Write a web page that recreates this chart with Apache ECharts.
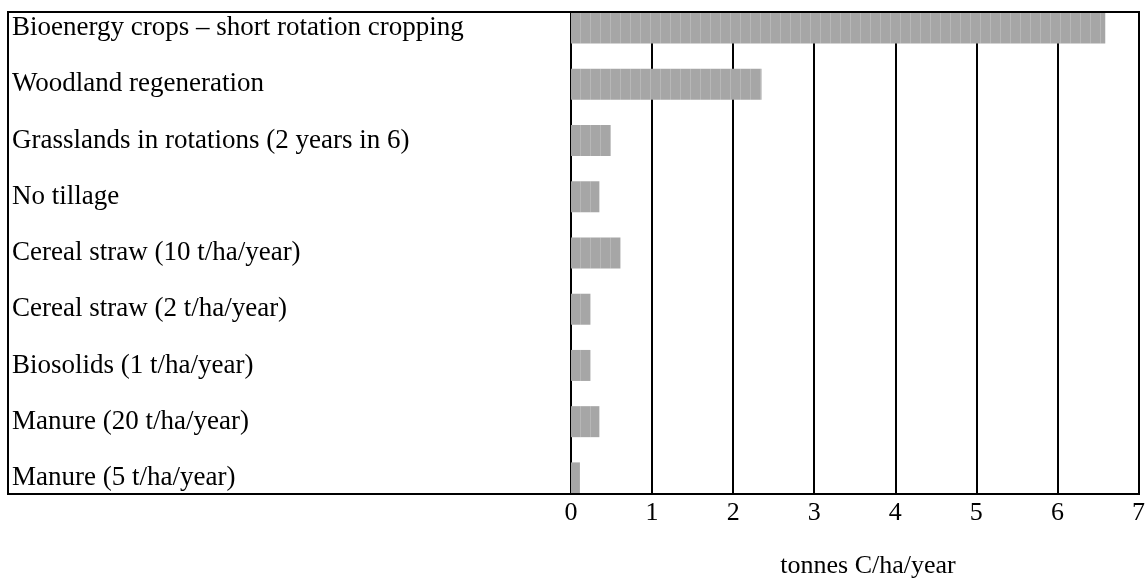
<!DOCTYPE html>
<html>
<head>
<meta charset="utf-8">
<script src="https://cdn.jsdelivr.net/npm/echarts@6/dist/echarts.min.js"></script>
<style>
  html, body { margin: 0; padding: 0; background: #fff; }
  #chart { width: 1148px; height: 584px; }
</style>
</head>
<body>
<div id="chart"></div>
<script>
const categories = [
    'Bioenergy crops \u2013 short rotation cropping',
    'Woodland regeneration',
    'Grasslands in rotations (2 years in 6)',
    'No tillage',
    'Cereal straw (10 t/ha/year)',
    'Cereal straw (2 t/ha/year)',
    'Biosolids (1 t/ha/year)',
    'Manure (20 t/ha/year)',
    'Manure (5 t/ha/year)'
];
const values = [6.59, 2.35, 0.49, 0.35, 0.61, 0.24, 0.24, 0.35, 0.11];
const axisTitle = 'tonnes C/ha/year';

const font = 'Liberation Serif, Times New Roman, serif';
const chart = echarts.init(document.getElementById('chart'), null, { renderer: 'canvas' });

const option = {
    animation: false,
    grid: { left: 571, right: 9, top: 0, height: 506 },
    xAxis: [{
        type: 'value',
        min: 0,
        max: 7,
        interval: 1,
        axisLine: { show: false },
        axisTick: { show: false },
        axisLabel: { show: false },
        splitLine: { lineStyle: { color: '#000', width: 2 } }
    }, {
        // label-only copy of the scale, sitting on the box's bottom edge
        type: 'value',
        position: 'bottom',
        offset: -12,
        min: 0,
        max: 7,
        interval: 1,
        z: 150,
        axisLine: { show: false },
        axisTick: { show: false },
        splitLine: { show: false },
        axisLabel: { color: '#000', fontFamily: font, fontSize: 26, margin: 6 }
    }],
    yAxis: {
        type: 'category',
        inverse: true,
        data: categories,
        axisTick: { show: false },
        axisLine: { lineStyle: { color: '#000', width: 2 } },
        axisLabel: { color: '#000', fontFamily: font, fontSize: 27, align: 'left', margin: 559, padding: [8, 0, 0, 0] }
    },
    series: [{
        type: 'bar',
        data: values,
        barWidth: 31,
        itemStyle: {
            color: '#a6a6a6',
            decal: {
                symbol: 'rect',
                symbolSize: 1,
                dashArrayX: [1, 9],
                dashArrayY: [10, 0],
                rotation: 0,
                color: 'rgba(255,255,255,0.2)'
            }
        },
        z: 1
    }],
    graphic: [
        { type: 'rect', z: 100, shape: { x: 560, y: 0, width: 588, height: 11 }, style: { fill: '#fff' } },
        { type: 'rect', z: 100, shape: { x: 560, y: 495, width: 588, height: 12 }, style: { fill: '#fff' } },
        { type: 'rect', z: 101, shape: { x: 8, y: 12, width: 1131, height: 482 },
          style: { fill: 'none', stroke: '#000', lineWidth: 2 } },
        { type: 'text', z: 101, x: 868, y: 566,
          style: { text: axisTitle, fill: '#000', font: '26px ' + font, textAlign: 'center', textVerticalAlign: 'middle' } }
    ]
};
chart.setOption(option);
</script>
</body>
</html>
